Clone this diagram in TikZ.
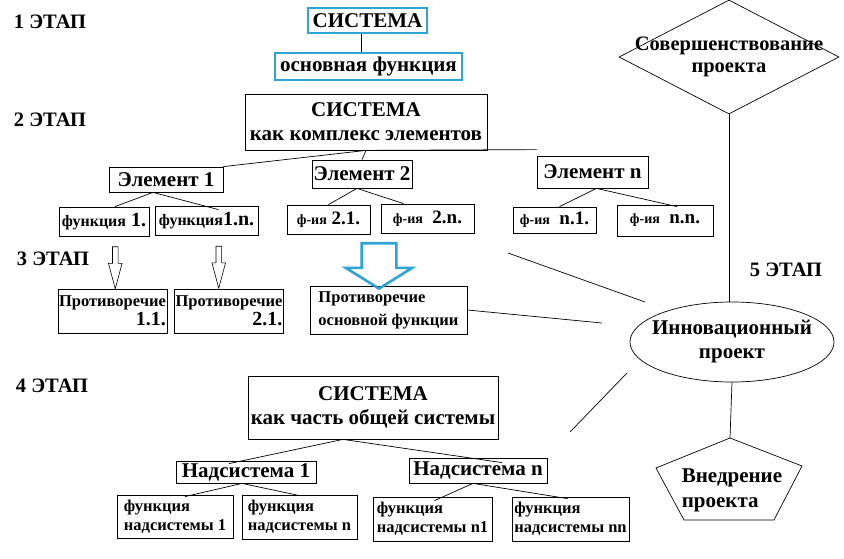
\documentclass[tikz,border=0pt]{standalone}
\usepackage{fontspec}
\setmainfont{Liberation Serif}
\usepackage{tikz}
\usetikzlibrary{shapes.geometric,shapes.arrows,calc}
\definecolor{sysblue}{HTML}{2EA3D6}

\begin{document}
\begin{tikzpicture}[x=1pt,y=-1pt,
      etap/.style={font=\fontsize{20.5}{22}\selectfont\bfseries},
      box/.style={rectangle, draw, line width=0.8pt, inner sep=1pt, font=\bfseries},
      bluebox/.style={box, draw=sysblue, line width=2.4pt},
      big/.style={font=\fontsize{21}{24}\selectfont\bfseries, align=center},
      small/.style={font=\fontsize{16.5}{19}\selectfont\bfseries},
      mid/.style={font=\fontsize{21}{23}\selectfont\bfseries},
      link/.style={line width=0.7pt},
      thinarrow/.style={single arrow, draw, line width=0.6pt, shape border rotate=270,
                        single arrow tip angle=30, single arrow head extend=4pt,
                        minimum height=42pt, inner sep=2.5pt},
      blockarrow/.style={single arrow, draw=sysblue, line width=2.6pt, shape border rotate=270,
                         single arrow tip angle=116, single arrow head extend=16pt,
                         minimum height=38pt, inner sep=16pt}
    ]
    \useasboundingbox (0,0) rectangle (844,559);
    % stages
    \node[etap] (st1) at (50,22) {1 ЭТАП};
    \node[etap] (st2) at (50,120) {2 ЭТАП};
    \node[etap] (st3) at (53,259) {3 ЭТАП};
    \node[etap] (st4) at (52,386) {4 ЭТАП};
    \node[etap] (st5) at (786,270) {5 ЭТАП};

    % 1 etap
    \node[bluebox, minimum width=119pt, minimum height=25pt, font=\fontsize{21}{23}\selectfont\bfseries] (sys1) at (367.5,20.5) {СИСТЕМА};
    \node[bluebox, minimum width=187pt, minimum height=27pt, mid] (mainf) at (368.5,66.5) {основная функция};
    \draw[link] ([xshift=-6pt]sys1.south) -- ([xshift=-7pt]mainf.north);

    % 2 etap
    \node[box, big, minimum width=242pt, minimum height=56pt] (sys2) at (366,122) {СИСТЕМА\\как комплекс элементов};
    \node[box, mid, minimum width=114pt, minimum height=25pt] (el1) at (166,179.5) {Элемент 1};
    \node[box, mid, minimum width=100pt, minimum height=28pt] (el2) at (362,174) {Элемент 2};
    \node[box, mid, minimum width=111pt, minimum height=32pt] (eln) at (592.5,172) {Элемент n};
    \draw[link] (sys2.south) -- (el1.north east);
    \draw[link] (sys2.south) -- ([yshift=6pt]eln.north west);
    \draw[link] (sys2.south) -- (el2.north);

    \node[box, minimum width=90pt, minimum height=29pt, font=\fontsize{20}{22}\selectfont\bfseries] (f11) at (104,221.5) {{\fontsize{16}{18}\selectfont функция} 1.};
    \node[box, minimum width=103pt, minimum height=29pt, font=\fontsize{20}{22}\selectfont\bfseries] (f1n) at (206.5,220.5) {{\fontsize{16}{18}\selectfont функция}1.n.};
    \node[box, minimum width=83pt, minimum height=29pt, font=\fontsize{19}{22}\selectfont\bfseries] (f21) at (328.5,219.5) {{\fontsize{14}{16}\selectfont ф-ия} 2.1.};
    \node[box, minimum width=93pt, minimum height=29pt, font=\fontsize{19}{22}\selectfont\bfseries] (f2n) at (427.5,218.5) {{\fontsize{14}{16}\selectfont ф-ия}\ \ 2.n.};
    \node[box, minimum width=83pt, minimum height=26pt, font=\fontsize{19}{22}\selectfont\bfseries] (fn1) at (554.5,220) {{\fontsize{14}{16}\selectfont ф-ия}\ \ n.1.};
    \node[box, minimum width=96pt, minimum height=31pt, font=\fontsize{19}{22}\selectfont\bfseries] (fnn) at (665,220.5) {{\fontsize{14}{16}\selectfont ф-ия}\ \ n.n.};
    \draw[link] ([xshift=-13pt]el1.south) -- ([xshift=11pt]f11.north);
    \draw[link] ([xshift=-13pt]el1.south) -- ([xshift=12pt,yshift=-4pt]f1n.north);
    \draw[link] ([xshift=-5pt]el2.south) -- (f21.north);
    \draw[link] ([xshift=-5pt]el2.south) -- ([xshift=-24pt]f2n.north);
    \draw[link] ([xshift=4pt]eln.south) -- ([xshift=5pt]fn1.north);
    \draw[link] ([xshift=4pt]eln.south) -- ([xshift=12pt,yshift=-2pt]fnn.north);

    % 3 etap
    \node[box, small, align=right, minimum width=107pt, minimum height=44pt] (c11) at (112.5,311) {Противоречие\\{\fontsize{20}{20}\selectfont 1.1.}};
    \node[box, small, align=right, minimum width=108pt, minimum height=44pt] (c21) at (229,311) {Противоречие\\{\fontsize{20}{20}\selectfont 2.1.}};
    \node[box, font=\fontsize{16.5}{23}\selectfont\bfseries, align=left, minimum width=157pt, minimum height=48pt] (cmain) at (388.5,310) {Противоречие\\основной функции};
    \node[thinarrow] (a11) at ($([xshift=11pt]f11.south)!0.5!([xshift=3pt]c11.north)$) {};
    \node[thinarrow] (a21) at ($([xshift=12pt]f1n.south)!0.5!([xshift=-10pt]c21.north)$) {};
    \node[blockarrow] (amain) at (379,260.5) {};

    % 4 etap
    \node[box, big, minimum width=250pt, minimum height=63pt] (sys4) at (373,407.5) {СИСТЕМА\\как часть общей системы};
    \node[box, mid, minimum width=140pt, minimum height=22pt] (ns1) at (246,472) {Надсистема 1};
    \node[box, mid, minimum width=138pt, minimum height=25pt] (nsn) at (478,470.5) {Надсистема n};
    \draw[link] ([xshift=-30pt]sys4.south) -- ([xshift=-17pt,yshift=-3pt]ns1.north);
    \draw[link] ([xshift=-30pt]sys4.south) -- ([xshift=24pt,yshift=-5pt]nsn.north);

    \node[box, small, align=left, minimum width=116pt, minimum height=43pt] (fs1) at (175,516.5) {функция\\надсистемы 1};
    \node[box, small, align=left, minimum width=115pt, minimum height=44pt] (fsn) at (299.5,517) {функция\\надсистемы n};
    \node[box, small, align=left, minimum width=119pt, minimum height=44pt] (fsn1) at (432.5,519) {функция\\надсистемы n1};
    \node[box, small, align=left, minimum width=117pt, minimum height=44pt] (fsnn) at (570.5,519) {функция\\надсистемы nn};
    \draw[link] ([xshift=-4pt]ns1.south) -- ([xshift=10pt,yshift=-2pt]fs1.north);
    \draw[link] ([xshift=-4pt]ns1.south) -- ([xshift=0pt,yshift=-1pt]fsn.north);
    \draw[link] ([xshift=-5pt]nsn.south) -- ([xshift=2pt,yshift=-4pt]fsn1.north);
    \draw[link] ([xshift=-5pt]nsn.south) -- ([xshift=-3pt,yshift=-2pt]fsnn.north);

    % 5 etap
    \node[diamond, draw, line width=0.7pt, minimum width=220pt, minimum height=114pt, inner sep=0pt,
          label={[font=\fontsize{20.5}{22}\selectfont\bfseries, align=center]center:Совершенствование\\проекта}] (improve) at (729,57) {};
    \node[ellipse, draw, line width=0.7pt, minimum width=204pt, minimum height=80pt, inner sep=0pt,
          label={[font=\fontsize{21}{24}\selectfont\bfseries, align=center]center:Инновационный\\проект}] (innov) at (732,342) {};
    \draw[line width=0.7pt] (730,438) -- (802,466) -- (774,520) -- (684,520) -- (656,468) -- cycle;
    \node[font=\fontsize{21}{25}\selectfont\bfseries, align=left] (impl) at (732,490) {Внедрение\\проекта};
    \coordinate (impltop) at (730,438);
    \draw[link] (improve.south) -- (improve.south |- innov.north);
    \draw[link] (innov.south) -- (impltop);

    % free lines towards the project
    \coordinate (p1) at (508,253);
    \coordinate (q1) at (645,302);
    \coordinate (q2) at (602,323);
    \coordinate (p3) at (570,432);
    \coordinate (q3) at (627,373);
    \draw[link] (p1) -- (q1);
    \draw[link] (cmain.east) -- (q2);
    \draw[link] (p3) -- (q3);
  \end{tikzpicture}
\end{document}
